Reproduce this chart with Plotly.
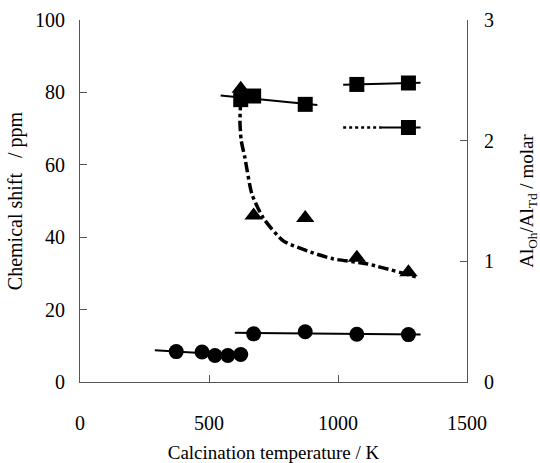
import numpy as np
import plotly.graph_objects as go

# ---- data ----
circ_low_T = [373, 473, 523, 573, 623]
circ_low_shift = [8.4, 8.3, 7.3, 7.3, 7.6]
circ_high_T = [673, 873, 1073, 1273]
circ_high_shift = [13.3, 13.9, 13.2, 13.1]

sq_mid_T = [623, 673, 873]
sq_mid_shift = [78.0, 79.0, 76.7]
sq_up_T = [1073, 1273]
sq_up_shift = [82.2, 82.6]
sq_low_T = [1273]
sq_low_shift = [70.3]

tri_T = [623, 673, 873, 1073, 1273]
tri_ratio = [2.43, 1.38, 1.36, 1.03, 0.91]

# dash-dot guide curve for the ratio (right axis)
curve_T = [623, 620, 625, 639, 666, 710, 788, 903, 982, 1111, 1305]
curve_ratio = [2.34, 2.15, 2.0, 1.86, 1.56, 1.36, 1.17, 1.07, 1.02, 0.98, 0.87]

# trend-line extents
fit_low_range = [290, 640]
fit_high_range = [600, 1320]
fit_sq_mid_range = [545, 920]
fit_sq_up_range = [1020, 1320]
sq_low_dot_range = [1020, 1170]
sq_low_solid_range = [1170, 1320]

x_ticks = [0, 500, 1000, 1500]

FONT = "Liberation Serif"


def fit_line(xs, ys, rng):
    k, b = np.polyfit(xs, ys, 1)
    xr = np.array(rng, dtype=float)
    return xr, k * xr + b


fig = go.Figure()
line_style = dict(color="black", width=2)

for xs, ys, rng in [
    (circ_low_T, circ_low_shift, fit_low_range),
    (circ_high_T, circ_high_shift, fit_high_range),
    (sq_mid_T, sq_mid_shift, fit_sq_mid_range),
    (sq_up_T, sq_up_shift, fit_sq_up_range),
]:
    xr, yr = fit_line(xs, ys, rng)
    fig.add_trace(go.Scatter(x=xr, y=yr, mode="lines", line=line_style, showlegend=False))

fig.add_trace(go.Scatter(x=sq_low_dot_range, y=[sq_low_shift[0]] * 2, mode="lines",
                         line=dict(color="black", width=2.5, dash="dot"), showlegend=False))
fig.add_trace(go.Scatter(x=sq_low_solid_range, y=[sq_low_shift[0]] * 2, mode="lines",
                         line=line_style, showlegend=False))

fig.add_trace(go.Scatter(x=curve_T, y=curve_ratio, mode="lines", yaxis="y2",
                         line=dict(color="black", width=3.5, dash="dashdot", shape="spline", smoothing=0.6),
                         showlegend=False))

mk = dict(color="black", size=15)
fig.add_trace(go.Scatter(x=circ_low_T + circ_high_T, y=circ_low_shift + circ_high_shift,
                         mode="markers", marker=dict(symbol="circle", **mk), showlegend=False))
fig.add_trace(go.Scatter(x=sq_mid_T + sq_up_T + sq_low_T, y=sq_mid_shift + sq_up_shift + sq_low_shift,
                         mode="markers", marker=dict(symbol="square", **mk), showlegend=False))
fig.add_trace(go.Scatter(x=tri_T, y=tri_ratio, yaxis="y2", mode="markers",
                         marker=dict(symbol="triangle-up", color="black", size=16), showlegend=False))

axis_common = dict(showgrid=False, zeroline=False, showline=True, linecolor="#555555", linewidth=1.2,
                   ticks="inside", ticklen=7, tickcolor="#555555", automargin=False,
                   tickfont=dict(family=FONT, size=20, color="black"))

fig.update_layout(
    width=540, height=463,
    margin=dict(l=80, r=73, t=20, b=81),
    paper_bgcolor="white", plot_bgcolor="white",
    font=dict(family=FONT, color="black"),
    xaxis=dict(range=[0, 1500], tickvals=x_ticks, ticklabelstandoff=23,
               title=dict(text="Calcination temperature / K", font=dict(family=FONT, size=19, color="black"), standoff=22),
               **axis_common),
    yaxis=dict(range=[0, 100], dtick=20, ticklabelstandoff=10,
               title=dict(text="Chemical shift &nbsp; / ppm", font=dict(family=FONT, size=20, color="black"), standoff=6),
               **axis_common),
    yaxis2=dict(range=[0, 3], dtick=1, overlaying="y", side="right", ticklabelstandoff=12,
                title=dict(text="Al<sub>Oh</sub>/Al<sub>Td</sub> / molar", font=dict(family=FONT, size=19, color="black"), standoff=28),
                **axis_common),
)

fig.write_html("out.html")
